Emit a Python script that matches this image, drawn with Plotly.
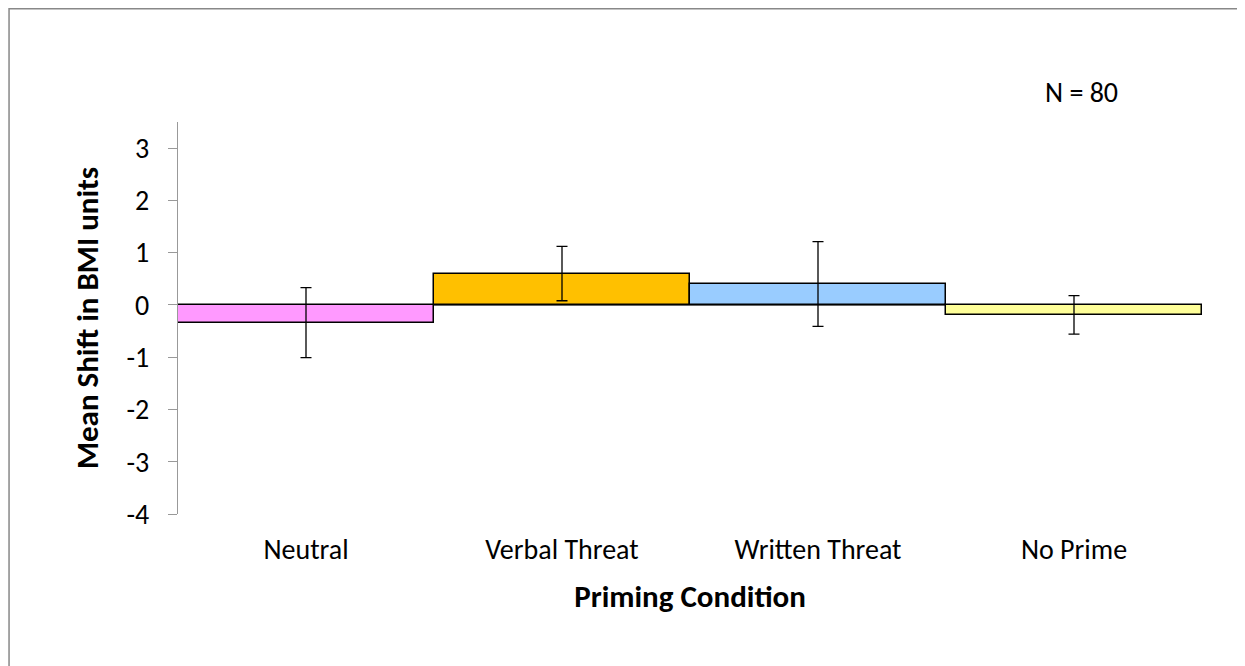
import plotly.graph_objects as go

categories = ["Neutral", "Verbal Threat", "Written Threat", "No Prime"]
means = [-0.34, 0.60, 0.40, -0.19]
errors = [0.67, 0.52, 0.81, 0.37]
colors = ["#FF99FF", "#FFC000", "#99CCFF", "#FFFF99"]
ytick_vals = [-4, -3, -2, -1, 0, 1, 2, 3]
ytick_text = ["-4", "-3", "-2", "-1", "0", "1", "2", "3"]

FONT = "Calibri, Carlito, Lato, sans-serif"

fig = go.Figure()
fig.add_trace(go.Bar(
    x=categories, y=means,
    marker=dict(color=colors, line=dict(color="black", width=1.5)),
    error_y=dict(type="data", array=errors, visible=True, color="black", thickness=1.3, width=5.5),
    width=1.0,
))

fig.update_layout(
    width=1237, height=658,
    margin=dict(l=170, r=43, t=114, b=152),
    plot_bgcolor="white", paper_bgcolor="white",
    showlegend=False,
    bargap=0,
    font=dict(family=FONT, size=28, color="black"),
    xaxis=dict(
        range=[-0.5, 3.5], showline=False, ticks="", showgrid=False,
        tickfont=dict(size=28), ticklabelstandoff=16,
        title=dict(text="<b>Priming Condition</b>", font=dict(size=31), standoff=19),
    ),
    yaxis=dict(
        range=[-4, 3.5], tickvals=ytick_vals, ticktext=ytick_text,
        showline=True, linecolor="#999999", linewidth=1.3,
        ticks="outside", ticklen=9, tickcolor="#999999", tickwidth=1.3,
        showgrid=False, zeroline=True, zerolinecolor="#666666", zerolinewidth=2,
        tickfont=dict(size=28), ticklabelstandoff=13,
        title=dict(text="<b>Mean Shift in BMI units</b>", font=dict(size=31), standoff=18),
    ),
    shapes=[dict(type="rect", xref="paper", yref="paper",
                 x0=-0.165, x1=1.035, y0=-0.45, y1=1.289,
                 line=dict(color="#888888", width=1.5), layer="below")],
    annotations=[dict(text="N = 80", xref="paper", yref="paper",
                      x=(1081 - 178) / 1024, y=(514 - 93) / 392,
                      showarrow=False, font=dict(size=28), xanchor="center", yanchor="middle")],
)

fig.write_html("out.html")
